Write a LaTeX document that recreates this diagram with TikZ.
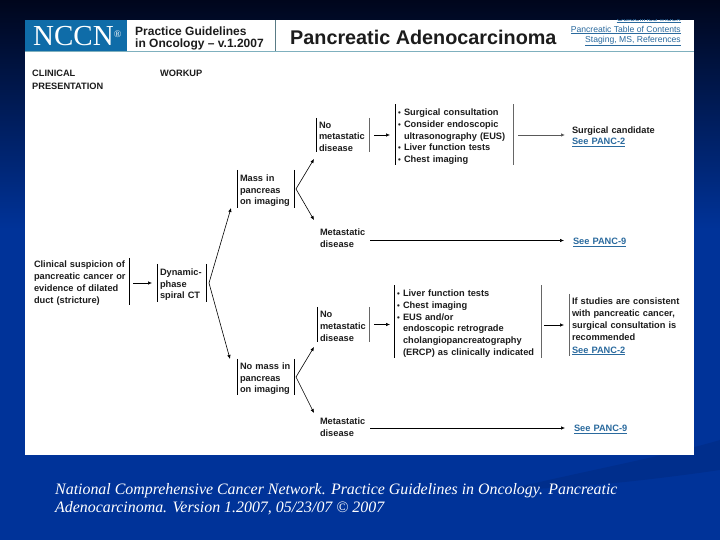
\documentclass[tikz,border=0pt]{standalone}
\usepackage{fontspec}
\usepackage{xcolor}
\setmainfont{Liberation Sans}
\newfontfamily\slideserif{Liberation Serif}
\usetikzlibrary{arrows.meta,positioning}
\definecolor{slidetop}{HTML}{00061C}
\definecolor{slideblue}{HTML}{003399}
\definecolor{swoosh}{HTML}{002E8C}
\definecolor{nccnblue}{HTML}{0F6CA8}
\definecolor{headrule}{HTML}{7FB0BE}
\definecolor{linkblue}{HTML}{2A6A9E}
\definecolor{inktext}{HTML}{1C1C1C}
\newcommand{\bulitem}{\makebox[6pt][l]{\scalebox{.85}{\textbullet}}}
\newcommand{\seelink}[1]{{\color{linkblue}\underline{#1}}}

\begin{document}
\begin{tikzpicture}[
  x=1pt, y=1pt,
  font=\fontsize{9.25}{11.8}\selectfont\bfseries, text=inktext,
  lbl/.style={align=left, outer sep=0pt, inner xsep=3pt, inner ysep=0pt, text width=#1, execute at begin node={\rule{0pt}{10pt}}},
  lside/.style={append after command={(\tikzlastnode.north west) edge[draw=black, line width=.7pt] (\tikzlastnode.south west)}},
  rside/.style={append after command={(\tikzlastnode.north east) edge[draw=black, line width=.7pt] (\tikzlastnode.south east)}},
  lgray/.style={append after command={(\tikzlastnode.north west) edge[draw=black!60, line width=.8pt] (\tikzlastnode.south west)}},
  rgray/.style={append after command={(\tikzlastnode.north east) edge[draw=black!60, line width=.8pt] (\tikzlastnode.south east)}},
  link/.style={align=right, inner sep=0pt, text=linkblue, font=\fontsize{8.6}{11}\selectfont},
  arr/.style={-{Latex[length=4pt,width=3.5pt]}, line width=.6pt, draw=black},
  arrgray/.style={-{Latex[length=4pt,width=3.5pt]}, line width=.8pt, draw=black!65}
]
  \useasboundingbox (0,0) rectangle (720,540);
  \fill[slideblue] (0,0) rectangle (720,540);
  \shade[top color=slidetop, bottom color=slideblue] (0,310) rectangle (720,540);
  \fill[swoosh] (505,50) .. controls (590,70) and (670,85) .. (720,100) -- (720,70) .. controls (650,60) and (580,52) .. (505,50);
  \fill[white] (25,85) rectangle (694,520);

  % header
  \fill[nccnblue] (25,489) rectangle (127,520);
  \draw[headrule, line width=.9pt] (25,488.5) -- (694,488.5);
  \draw[headrule!70!black, line width=.6pt] (275,489) -- (275,520);
  \node[text=white, inner sep=0pt, anchor=west, font=\slideserif\fontsize{29}{29}\selectfont] (nccn) at (33,504) {NCCN\raisebox{8pt}{\fontsize{10}{10}\selectfont\textregistered}};
  \node[anchor=west, align=left, inner sep=0pt, font=\fontsize{12}{11.8}\selectfont\bfseries] (guide) at (135,501.5) {Practice Guidelines\\in Oncology -- v.1.2007};
  \node[anchor=west, inner sep=0pt, font=\fontsize{19.8}{20}\selectfont\bfseries] (title) at (290,503) {Pancreatic Adenocarcinoma};
  \begin{scope}
    \clip (25,485) rectangle (694,520);
    \node[link, anchor=east] (linkidx) at (681,521) {\underline{Guidelines Index}};
  \end{scope}
  \node[link, anchor=east] (linktoc) at (681,510) {\underline{Pancreatic Table of Contents}};
  \node[link, anchor=east] (linkstg) at (681,499) {\underline{Staging, MS, References}};

  \node[anchor=north west, align=left, inner sep=0pt, font=\fontsize{9.25}{12.7}\selectfont\bfseries] (clinhead) at (32,470) {CLINICAL\\PRESENTATION};
  \node[anchor=north west, align=left, inner sep=0pt] (workhead) at (160,470) {WORKUP};

  % nodes
  \node[lbl=92pt, rside, minimum height=47pt, anchor=west] (clin) at (31,258.5) {Clinical suspicion of\\pancreatic cancer or\\evidence of dilated\\duct (stricture)};
  \node[lbl=43pt, lside, rside, minimum height=38pt, right=28pt of clin, yshift=-1.5pt] (dyn) {Dynamic-\\phase\\spiral CT};

  \node[lbl=51pt, lside, rside, minimum height=38pt, right=31pt of dyn, yshift=94pt] (mass) {Mass in\\pancreas\\on imaging};
  \node[lbl=51pt, lside, rside, minimum height=36pt, right=31pt of dyn, yshift=-94pt] (nomass) {No mass in\\pancreas\\on imaging};

  \node[lbl=47pt, lside, rgray, minimum height=34pt, right=22pt of mass, yshift=54pt] (nometa) {No\\metastatic\\disease};
  \node[lbl=48pt, right=23pt of mass, yshift=-47.5pt] (meta) {Metastatic\\disease};
  \node[lbl=46pt, lside, rgray, minimum height=35pt, right=23pt of nomass, yshift=52.5pt] (nometb) {No\\metastatic\\disease};
  \node[lbl=48pt, right=23pt of nomass, yshift=-48.5pt] (metb) {Metastatic\\disease};

  \node[lbl=112pt, lside, rgray, minimum height=61pt, right=26pt of nometa] (workupa) {\bulitem Surgical consultation\\\bulitem Consider endoscopic\\\hspace*{6pt}ultrasonography (EUS)\\\bulitem Liver function tests\\\bulitem Chest imaging};
  \node[lbl=141pt, lside, rgray, minimum height=73pt, right=25pt of nometb, yshift=2.5pt] (workupb) {\bulitem Liver function tests\\\bulitem Chest imaging\\\bulitem EUS and/or\\\hspace*{6pt}endoscopic retrograde\\\hspace*{6pt}cholangiopancreatography\\\hspace*{6pt}(ERCP) as clinically indicated};

  \node[lbl=110pt, inner xsep=0pt, right=59pt of workupa] (cand) {Surgical candidate\\\seelink{See PANC-2}};
  \node[lbl=112pt, lgray, minimum height=62pt, right=28pt of workupb, yshift=-3pt] (cons) {If studies are consistent\\with pancreatic cancer,\\surgical consultation is\\recommended\\[1pt]\seelink{See PANC-2}};
  \node[lbl=60pt, inner xsep=0pt, right=202pt of meta, yshift=-4pt] (seea) {\seelink{See PANC-9}};
  \node[lbl=60pt, inner xsep=0pt, right=203pt of metb, yshift=-2.5pt] (seeb) {\seelink{See PANC-9}};

  % forks
  \coordinate[right=3pt of dyn] (forkdyn);
  \coordinate[right=2pt of mass] (forkmass);
  \coordinate[right=2pt of nomass] (forknomass);

  \draw[arr] ([xshift=4pt]clin.east |- dyn) -- ([xshift=-5pt]dyn.west);
  \draw[arr] (forkdyn) -- ([xshift=-6pt]mass.south west);
  \draw[arr] (forkdyn) -- ([xshift=-7pt]nomass.north west);
  \draw[arr] (forkmass) -- ([xshift=-2pt,yshift=-7pt]nometa.south west);
  \draw[arr] (forkmass) -- ([xshift=-3pt,yshift=5.5pt]meta.north west);
  \draw[arr] (forknomass) -- ([xshift=-3pt,yshift=-5pt]nometb.south west);
  \draw[arr] (forknomass) -- ([xshift=-3pt,yshift=1.5pt]metb.north west);
  \draw[arr] ([xshift=5pt]nometa.east) -- ([xshift=-5pt]workupa.west |- nometa);
  \draw[arr] ([xshift=5pt]nometb.east) -- ([xshift=-4pt]workupb.west |- nometb);
  \draw[arrgray] ([xshift=5pt]workupa.east) -- ([xshift=-7pt]cand.west);
  \draw[arr] ([xshift=3pt]workupb.east |- cons) -- ([xshift=-5pt]cons.west);
  \draw[arr] ([xshift=-1pt]meta.east |- seea) -- ([xshift=-9pt]seea.west);
  \draw[arr] ([xshift=-1pt]metb.east |- seeb) -- ([xshift=-9pt]seeb.west);

  % caption
  \node[anchor=north west, align=left, inner sep=0pt, text=white, font=\slideserif\itshape\fontsize{15.9}{18.2}\selectfont] (caption) at (55,57) {National Comprehensive Cancer Network. Practice Guidelines in Oncology. Pancreatic\\Adenocarcinoma. Version 1.2007, 05/23/07 \textcopyright{} 2007};
\end{tikzpicture}
\end{document}
